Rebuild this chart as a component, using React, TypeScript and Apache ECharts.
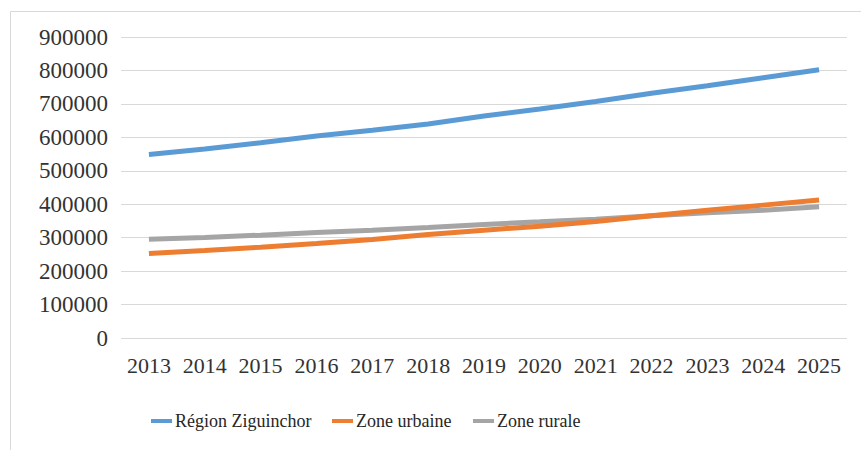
import React, { useEffect, useRef } from "react";
import * as echarts from "echarts";

const years = ["2013", "2014", "2015", "2016", "2017", "2018", "2019", "2020", "2021", "2022", "2023", "2024", "2025"];
const regionZiguinchor = [549000, 565000, 584000, 604000, 621000, 640000, 664000, 685000, 707000, 732000, 754000, 778000, 802000];
const zoneUrbaine = [252700, 261700, 271500, 282600, 294600, 309600, 322500, 334400, 348500, 365300, 382300, 397300, 412300];
const zoneRurale = [295500, 300600, 307500, 315600, 322500, 330500, 339500, 347300, 355400, 365300, 374300, 382300, 392200];
const seriesNames = ["Région Ziguinchor", "Zone urbaine", "Zone rurale"];
const colors = ["#5B9BD5", "#ED7D31", "#A5A5A5"];

export default function App() {
  const ref = useRef<HTMLDivElement>(null);
  useEffect(() => {
    if (!ref.current) return;
    const chart = echarts.init(ref.current, null, { renderer: "svg" });
    const font = "Liberation Serif";
    const data = [regionZiguinchor, zoneUrbaine, zoneRurale];
    const legendX = [151, 332, 473];
    const legendY = 421;
    const legendItems: any[] = [];
    seriesNames.forEach((n, i) => {
      legendItems.push({
        type: "rect",
        shape: { x: legendX[i], y: legendY - 2, width: 21, height: 4 },
        style: { fill: colors[i] },
        silent: true,
      });
      legendItems.push({
        type: "text",
        x: legendX[i] + 24,
        y: legendY,
        style: {
          text: n,
          fontFamily: font,
          fontSize: 18,
          fill: "#262626",
          verticalAlign: "middle",
        },
        silent: true,
      });
    });
    chart.setOption({
      animation: false,
      backgroundColor: "#ffffff",
      textStyle: { fontFamily: font },
      graphic: [
        {
          type: "rect",
          shape: { x: 10.5, y: 11.5, width: 900, height: 500 },
          style: { fill: "none", stroke: "#D9D9D9", lineWidth: 1 },
          silent: true,
        },
        ...legendItems,
      ],
      grid: { left: 121, right: 14, top: 37, bottom: 112, containLabel: false },
      xAxis: {
        type: "category",
        data: years,
        boundaryGap: true,
        axisLine: { show: false },
        axisTick: { show: false },
        axisLabel: { interval: 0, fontFamily: font, fontSize: 22, color: "#333333", margin: 16 },
      },
      yAxis: {
        type: "value",
        min: 0,
        max: 900000,
        interval: 100000,
        axisLine: { show: false },
        axisTick: { show: false },
        axisLabel: {
          fontFamily: font,
          fontSize: 23,
          color: "#333333",
          margin: 13,
          formatter: (v: number) => String(v),
        },
        splitLine: { lineStyle: { color: "#D9D9D9", width: 1 } },
      },
      series: seriesNames.map((n, i) => ({
        name: n,
        type: "line",
        data: data[i],
        showSymbol: false,
        symbol: "none",
        lineStyle: { color: colors[i], width: 5, cap: "butt" },
        itemStyle: { color: colors[i] },
        z: 3 - i,
      })),
    });
    return () => chart.dispose();
  }, []);
  return (
    <div
      ref={ref}
      style={{ position: "fixed", left: 0, top: 0, width: 861, height: 450 }}
    />
  );
}
